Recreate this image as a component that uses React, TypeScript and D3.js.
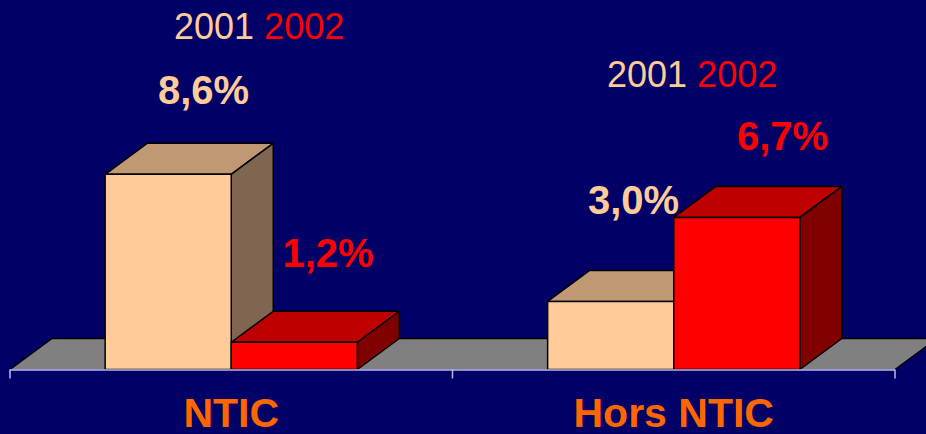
import React from "react";
import * as d3 from "d3";

const categories = ["NTIC", "Hors NTIC"];
const series = ["2001", "2002"];
const values2001 = [8.6, 3.0];
const values2002 = [1.2, 6.7];

const W = 926;
const H = 434;
const BG = "#000066";
const FRONT = ["#FFCC99", "#FF0000"];
const TOP = ["#C09874", "#BF0000"];
const SIDE = ["#806650", "#800000"];
const FONT = "'Liberation Sans', Arial, sans-serif";

// label anchors (layout only)
const valueLabelPos = [
  [
    { x: 203.5, y: 104 },
    { x: 328, y: 267 },
  ],
  [
    { x: 633.5, y: 214 },
    { x: 782.5, y: 150 },
  ],
];
const yearLabelPos = [
  { x: 174, y: 39 },
  { x: 607, y: 87 },
];

export default function App() {
  const base = 369.5;
  const dx = 42;
  const dy = 31;
  const x = d3.scaleBand<string>().domain(categories).range([10, 895]);
  const y = d3.scaleLinear().domain([0, 10]).range([base, base - 227]);
  const barW = x.bandwidth() * 0.285;
  const sx = d3
    .scaleBand<string>()
    .domain(series)
    .range([0, barW * 2]);
  const data = [values2001, values2002];

  const fmt = (v: number) => d3.format(".1f")(v).replace(".", ",") + "%";

  const floorPath =
    d3.line()([
      [10, base],
      [10 + dx, base - dy],
      [W + 50, base - dy],
    ]) || "";

  return (
    <svg
      width={W}
      height={H}
      style={{ position: "absolute", left: 0, top: 0, display: "block" }}
    >
      <rect width={W} height={H} fill={BG} />
      <polygon
        points={[
          [10, base],
          [10 + dx, base - dy],
          [895 + dx, base - dy],
          [895, base],
        ]
          .map((p) => p.join(","))
          .join(" ")}
        fill="#808080"
        stroke="none"
      />
      <path d={floorPath} fill="none" stroke="#000" strokeWidth={1.5} />
      <line x1={895} y1={base} x2={895 + dx} y2={base - dy} stroke="#000" strokeWidth={1.5} />
      {categories.map((c, ci) => {
        const cx = (x(c) as number) + x.bandwidth() / 2 - barW;
        return (
          <g key={c}>
            {series.map((s, si) => {
              const v = data[si][ci];
              const x0 = cx + (sx(s) as number);
              const x1 = x0 + sx.bandwidth();
              const yt = y(v);
              const pts = (arr: number[][]) => arr.map((p) => p.join(",")).join(" ");
              return (
                <g key={s} stroke="#000" strokeWidth={1.5} strokeLinejoin="round">
                  <polygon
                    points={pts([
                      [x0, yt],
                      [x0 + dx, yt - dy],
                      [x1 + dx, yt - dy],
                      [x1, yt],
                    ])}
                    fill={TOP[si]}
                  />
                  <polygon
                    points={pts([
                      [x1, yt],
                      [x1 + dx, yt - dy],
                      [x1 + dx, base - dy],
                      [x1, base],
                    ])}
                    fill={SIDE[si]}
                  />
                  <rect x={x0} y={yt} width={x1 - x0} height={base - yt} fill={FRONT[si]} />
                </g>
              );
            })}
          </g>
        );
      })}
      <line x1={10} y1={base + 0.5} x2={895} y2={base + 0.5} stroke="#B8B8F0" strokeWidth={1.5} />
      {[10, x("Hors NTIC") as number, 895].map((t, i) => (
        <line key={i} x1={t} y1={base} x2={t} y2={base + 9} stroke="#B8B8F0" strokeWidth={1.5} />
      ))}
      {categories.map((c) => (
        <text
          key={c}
          x={(x(c) as number) + x.bandwidth() / 2}
          y={427}
          textAnchor="middle"
          fill="#FF6600"
          fontFamily={FONT}
          fontWeight="bold"
          fontSize={41}
        >
          {c}
        </text>
      ))}
      {categories.map((c, ci) => (
        <text
          key={"yl" + c}
          x={yearLabelPos[ci].x}
          y={yearLabelPos[ci].y}
          fontFamily={FONT}
          fontSize={36}
        >
          <tspan fill={FRONT[0]}>{series[0]}</tspan>
          <tspan fill={FRONT[1]}> {series[1]}</tspan>
        </text>
      ))}
      {categories.map((c, ci) =>
        series.map((s, si) => (
          <text
            key={c + s}
            x={valueLabelPos[ci][si].x}
            y={valueLabelPos[ci][si].y}
            textAnchor="middle"
            fill={FRONT[si]}
            fontFamily={FONT}
            fontWeight="bold"
            fontSize={40}
          >
            {fmt(data[si][ci])}
          </text>
        ))
      )}
    </svg>
  );
}
